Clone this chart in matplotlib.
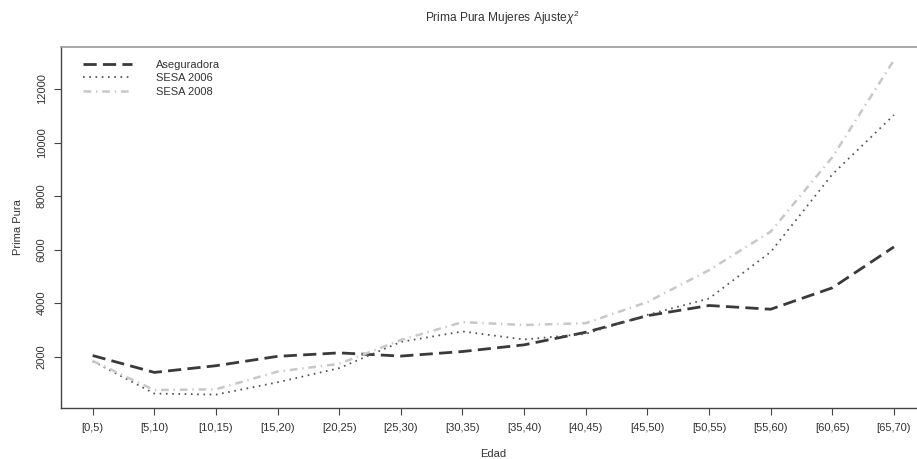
import matplotlib
matplotlib.use("Agg")
import matplotlib.pyplot as plt
import numpy as np

plt.rcParams['font.family'] = ['Liberation Sans', 'DejaVu Sans']
plt.rcParams['lines.scale_dashes'] = False
plt.rcParams['mathtext.fontset'] = 'custom'
plt.rcParams['mathtext.rm'] = 'Liberation Sans'
plt.rcParams['mathtext.it'] = 'Liberation Sans:italic'

categories = ["[0,5)", "[5,10)", "[10,15)", "[15,20)", "[20,25)", "[25,30)", "[30,35)",
              "[35,40)", "[40,45)", "[45,50)", "[50,55)", "[55,60)", "[60,65)", "[65,70)"]
aseguradora = [2040, 1410, 1660, 2010, 2140, 2020, 2190, 2440, 2910, 3530, 3910, 3770, 4570, 6100]
sesa_2006 = [1830, 620, 580, 1040, 1570, 2550, 2940, 2640, 2850, 3560, 4170, 5910, 8810, 11030]
sesa_2008 = [1840, 750, 780, 1440, 1730, 2620, 3290, 3180, 3250, 4040, 5230, 6670, 9450, 13080]
yticks = [2000, 4000, 6000, 8000, 10000, 12000]

W, H = 917, 459
fig = plt.figure(figsize=(W / 100, H / 100), dpi=100)
left, right, top, bottom = 60.6, 926.0, 46.7, 408.0
ax = fig.add_axes([left / W, 1 - bottom / H, (right - left) / W, (bottom - top) / H])

x = np.arange(1, len(categories) + 1)
ax.plot(x, aseguradora, color='#3a3a3a', lw=2.0, linestyle=(0, (9.5, 4.5)), label='Aseguradora')
ax.plot(x, sesa_2006, color='#555555', lw=1.3, linestyle=(0, (1.2, 3.3)), label='SESA 2006')
ax.plot(x, sesa_2008, color='#c8c8c8', lw=1.8, linestyle=(0, (5.5, 3.5, 1.0, 3.5)), label='SESA 2008')

allv = aseguradora + sesa_2006 + sesa_2008
lo, hi = min(allv), max(allv)
r = hi - lo
ax.set_ylim(lo - 0.04 * r, hi + 0.04 * r)
n = len(categories)
ax.set_xlim(1 - 0.04 * (n - 1), n + 0.04 * (n - 1))

fs = 8
ax.set_xticks(x)
ax.set_xticklabels(categories, fontsize=fs, color='#333333')
ax.set_yticks(yticks)
ax.set_yticklabels([str(v) for v in yticks], fontsize=fs, color='#333333', rotation=90, va='center')
ax.tick_params(axis='x', length=5, width=0.8, color='#444444', pad=6)
ax.tick_params(axis='y', length=5, width=0.8, color='#444444', pad=5)

for s in ['left', 'bottom', 'right']:
    ax.spines[s].set_color('#444444')
    ax.spines[s].set_linewidth(1.0)
ax.spines['top'].set_color('#999999')
ax.spines['top'].set_linewidth(1.2)

ax.set_xlabel('Edad', fontsize=fs, color='#333333', labelpad=11)
ax.set_ylabel('Prima Pura', fontsize=fs, color='#333333', labelpad=10)
fig.text(502 / W, 1 - 18 / H, r'Prima Pura Mujeres Ajuste$\chi^2$', ha='center', va='center',
         fontsize=8.6, color='#333333')

leg = ax.legend(loc='upper left', bbox_to_anchor=(0.017, 0.985), frameon=False, fontsize=fs,
                handlelength=4.4, handletextpad=2.2, labelspacing=0.3, borderaxespad=0.3)
for t in leg.get_texts():
    t.set_color('#333333')

fig.savefig('out.png', dpi=100)
